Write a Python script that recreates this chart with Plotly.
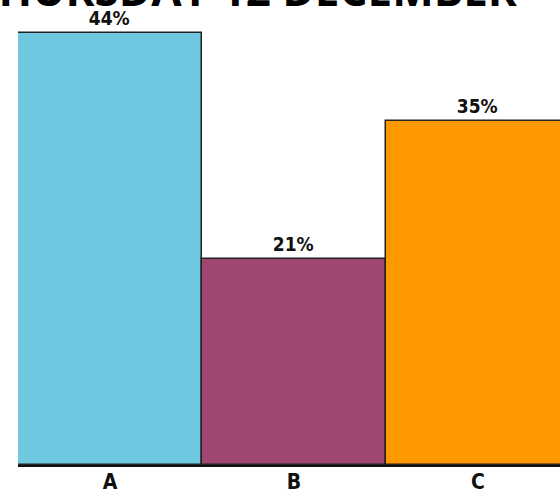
import plotly.graph_objects as go

categories = ["A", "B", "C"]
shares = [44, 21, 35]
bar_colors = ["#6ec8e0", "#9f4770", "#ff9900"]
title_text = "THURSDAY 12 DECEMBER"

label_font = "DejaVu Sans Condensed, Roboto, sans-serif"

fig = go.Figure(
    go.Bar(
        x=categories,
        y=shares,
        marker=dict(color=bar_colors, line=dict(color="#222222", width=1.5)),
        text=[f"{v}%" for v in shares],
        textposition="outside",
        textfont=dict(family=label_font, size=19, color="#111111", weight="bold"),
        cliponaxis=False,
        width=1.0,
    )
)

fig.add_annotation(
    text=f"<b>{title_text}</b>",
    xref="paper", yref="paper",
    x=0.926, y=1.0, xanchor="right", yanchor="bottom",
    yshift=-1,
    showarrow=False,
    font=dict(family="Open Sans, sans-serif", size=44, color="#000000", weight=800),
)

fig.update_layout(
    width=560, height=492,
    margin=dict(l=18, r=0, t=20, b=27),
    paper_bgcolor="white", plot_bgcolor="white",
    showlegend=False,
    bargap=0,
)
fig.update_xaxes(
    range=[-0.5, 2.446],
    showline=True, linecolor="#111111", linewidth=2,
    ticks="", showgrid=False, ticklabelstandoff=-3, automargin=False,
    tickfont=dict(family=label_font, size=21, color="#111111", weight="bold"),
)
fig.update_yaxes(range=[0, 45.3], visible=False, showgrid=False, automargin=False)

fig.write_html("out.html")
